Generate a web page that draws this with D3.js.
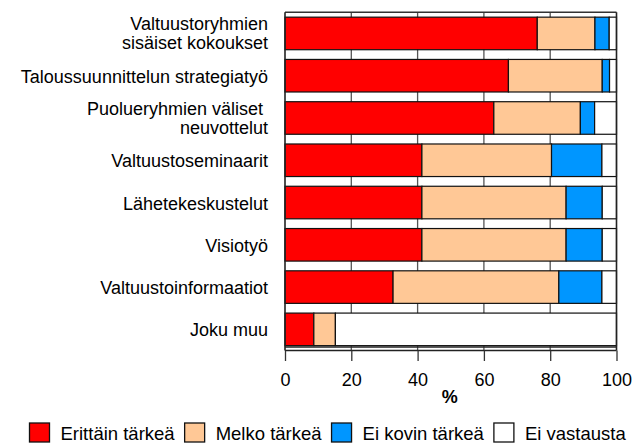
<!DOCTYPE html>
<html><head><meta charset="utf-8">
<script src="https://cdn.jsdelivr.net/npm/d3@7"></script>
<style>body{margin:0;background:#fff}svg{display:block}text{font-family:"Liberation Sans",Arial,sans-serif;fill:#000}</style>
</head><body><div id="c"></div>
<script>
const categories = [
  ["Valtuustoryhmien", "sisäiset kokoukset"],
  ["Taloussuunnittelun strategiatyö"],
  ["Puolueryhmien väliset ", "neuvottelut"],
  ["Valtuustoseminaarit"],
  ["Lähetekeskustelut"],
  ["Visiotyö"],
  ["Valtuustoinformaatiot"],
  ["Joku muu"]
];
const seriesNames = ["Erittäin tärkeä", "Melko tärkeä", "Ei kovin tärkeä", "Ei vastausta"];
const erittainTarkea = [76.1, 67.4, 63.0, 41.3, 41.3, 41.3, 32.6, 8.7];
const melkoTarkea    = [17.4, 28.3, 26.1, 39.1, 43.5, 43.5, 50.0, 6.5];
const eiKovinTarkea  = [4.3, 2.2, 4.3, 15.2, 10.9, 10.9, 13.0, 0];
const eiVastausta    = [2.2, 2.1, 6.6, 4.4, 4.3, 4.3, 4.4, 84.8];
const xTicks = [0, 20, 40, 60, 80, 100];
const colors = ["#FF0000", "#FFC896", "#0096FF", "#FFFFFF"];

(function(){
const W = 641, H = 443;
const pLeft = 285, pRight = 616.5, pTop = 12.3, pBottom = 350.5;
const svg = d3.select("#c").append("svg").attr("width", W).attr("height", H);

const x = d3.scaleLinear().domain([0, 100]).range([pLeft, pRight]);
const y = d3.scaleBand().domain(d3.range(categories.length)).range([pTop, pBottom]).paddingInner(0.23).paddingOuter(0.115);

const seriesVals = [erittainTarkea, melkoTarkea, eiKovinTarkea, eiVastausta];
const rows = categories.map((c, i) => {
  const o = {i};
  seriesNames.forEach((s, k) => o[s] = seriesVals[k][i]);
  return o;
});
const stack = d3.stack().keys(seriesNames)(rows);

// gridlines
svg.append("g").selectAll("line").data(xTicks.slice(1, -1)).join("line")
  .attr("x1", d => x(d)).attr("x2", d => x(d)).attr("y1", pTop).attr("y2", pBottom)
  .attr("stroke", "#555").attr("stroke-width", 1.3);

// bars
svg.append("g").selectAll("g").data(stack).join("g")
  .attr("fill", (d, k) => colors[k])
  .selectAll("rect").data(d => d.filter(p => p[1] - p[0] > 0)).join("rect")
  .attr("x", d => x(d[0])).attr("width", d => x(d[1]) - x(d[0]))
  .attr("y", d => y(d.data.i)).attr("height", y.bandwidth())
  .attr("stroke", "#111").attr("stroke-width", 1.2);

// frame
svg.append("line").attr("x1", pLeft).attr("x2", pRight).attr("y1", pTop).attr("y2", pTop).attr("stroke", "#333").attr("stroke-width", 1.4);
svg.append("line").attr("x1", pLeft).attr("x2", pRight).attr("y1", 347).attr("y2", 347).attr("stroke", "#222").attr("stroke-width", 1.6);

// x axis
const ax = svg.append("g").attr("transform", `translate(0,${pBottom})`)
  .call(d3.axisBottom(x).tickValues(xTicks).tickSize(10.5).tickPadding(10).tickFormat(d3.format("d")));
ax.select(".domain").attr("stroke", "#222").attr("stroke-width", 1.5).attr("d", `M${pLeft},0H${pRight}`);
ax.selectAll(".tick line").attr("stroke", "#333").attr("stroke-width", 1.3);
ax.selectAll(".tick text").attr("font-size", 18).attr("font-family", "Liberation Sans, Arial, sans-serif").attr("fill", "#000").attr("dy", null).attr("y", 35.5);
// vertical frame sides
[pLeft, pRight].forEach(v => svg.append("line").attr("x1", v).attr("x2", v).attr("y1", pTop).attr("y2", pBottom).attr("stroke", "#222").attr("stroke-width", 1.6));

svg.append("text").attr("x", (pLeft + pRight) / 2 - 1).attr("y", 403).attr("text-anchor", "middle")
  .attr("font-size", 18).attr("font-weight", "bold").text("%");

// category labels
const lab = svg.append("g").selectAll("g").data(categories).join("g");
lab.each(function(lines, i) {
  const c = y(i) + y.bandwidth() / 2;
  const g = d3.select(this);
  const base = lines.length === 1 ? [c + 7] : [c - 3, c + 16];
  lines.forEach((l, j) => g.append("text").attr("x", 268).attr("y", base[j])
    .attr("text-anchor", "end").attr("font-size", 18).style("white-space", "pre").text(l));
});

// legend
const lg = svg.append("g");
let lx = 29.5;
seriesNames.forEach((s, k) => {
  lg.append("rect").attr("x", lx).attr("y", 423).attr("width", 20).attr("height", 19)
    .attr("fill", colors[k]).attr("stroke", "#111").attr("stroke-width", 1.3);
  const t = lg.append("text").attr("x", lx + 31).attr("y", 439.5).attr("font-size", 18.5).text(s);
  lx = lx + 31 + t.node().getComputedTextLength() + 10;
});
})();
</script></body></html>
